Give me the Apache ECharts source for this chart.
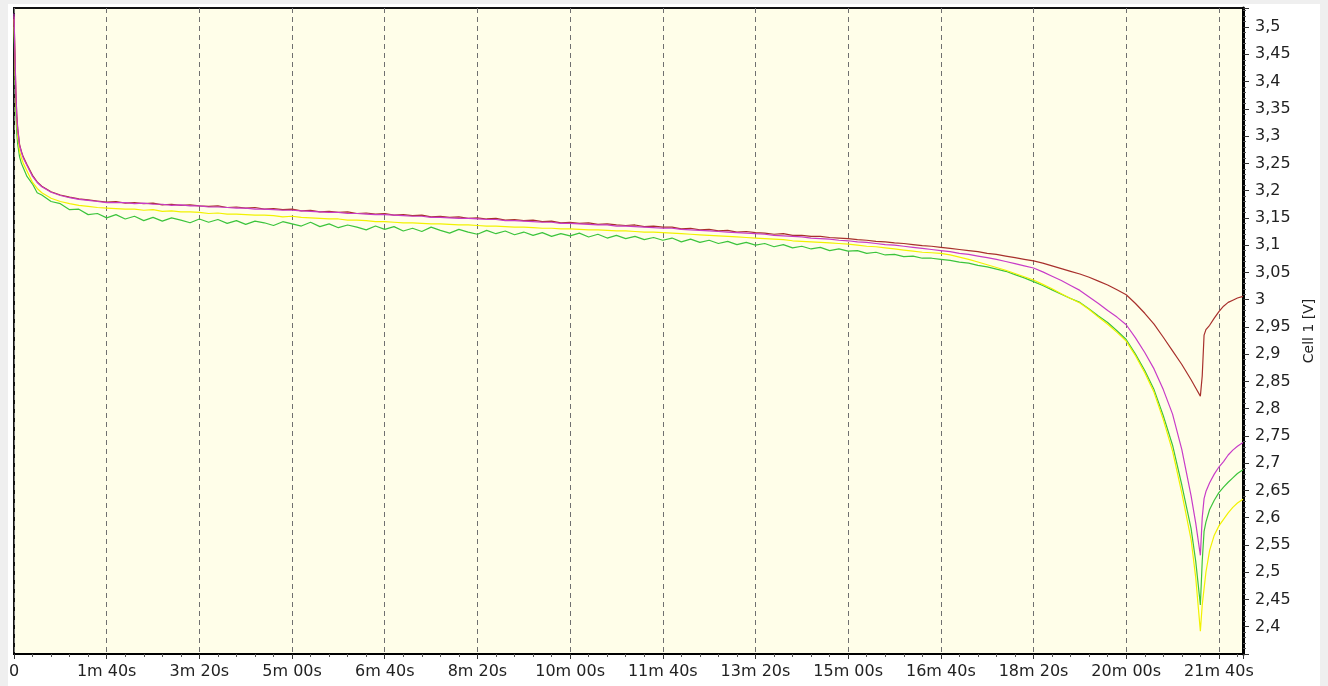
<!DOCTYPE html>
<html>
<head>
<meta charset="utf-8">
<title>Cell 1 discharge</title>
<script src="https://cdn.jsdelivr.net/npm/echarts@6/dist/echarts.min.js"></script>
<style>
  html, body { margin: 0; padding: 0; background: #efefef; }
  #cellChart { width: 1328px; height: 686px; }
</style>
</head>
<body>
<div id="cellChart"></div>
<script>
// time in seconds
const timeSec = [
  0, 1, 2, 3, 4, 6, 8, 10, 14, 20, 25, 30, 40, 50, 60, 70, 80, 90,
  100, 110, 120, 130, 140, 150, 160, 170, 180, 190,
  200, 210, 220, 230, 240, 250, 260, 270, 280, 290,
  300, 310, 320, 330, 340, 350, 360, 370, 380, 390,
  400, 410, 420, 430, 440, 450, 460, 470, 480, 490,
  500, 510, 520, 530, 540, 550, 560, 570, 580, 590,
  600, 610, 620, 630, 640, 650, 660, 670, 680, 690,
  700, 710, 720, 730, 740, 750, 760, 770, 780, 790,
  800, 810, 820, 830, 840, 850, 860, 870, 880, 890,
  900, 910, 920, 930, 940, 950, 960, 970, 980, 990,
  1000, 1010, 1020, 1030, 1040, 1050, 1060, 1070, 1080, 1090,
  1100, 1110, 1120, 1130, 1140, 1150, 1160, 1170, 1180, 1190,
  1200, 1210, 1220, 1230, 1240, 1250, 1260, 1270,
  1275, 1280, 1282, 1284, 1286, 1290, 1295, 1300, 1305, 1310, 1315, 1320, 1326
];

const redCell = [
  3.520, 3.450, 3.380, 3.340, 3.315, 3.285, 3.272, 3.262, 3.248, 3.228, 3.216, 3.208, 3.198, 3.192, 3.188, 3.185, 3.183, 3.181,
  3.179, 3.180, 3.177, 3.178, 3.176, 3.177, 3.174, 3.175, 3.173, 3.174,
  3.172, 3.171, 3.172, 3.169, 3.170, 3.168, 3.169, 3.166, 3.167, 3.165,
  3.166, 3.163, 3.164, 3.161, 3.162, 3.160, 3.161, 3.158, 3.159, 3.157,
  3.158, 3.155, 3.156, 3.154, 3.155, 3.152, 3.153, 3.151, 3.152, 3.149,
  3.150, 3.148, 3.149, 3.146, 3.147, 3.145, 3.146, 3.143, 3.144, 3.141,
  3.142, 3.140, 3.141, 3.138, 3.139, 3.137, 3.136, 3.137, 3.134, 3.135,
  3.133, 3.133, 3.130, 3.131, 3.128, 3.129, 3.126, 3.127, 3.124, 3.125,
  3.123, 3.122, 3.120, 3.121, 3.118, 3.118, 3.116, 3.116, 3.114, 3.113,
  3.112, 3.110, 3.109, 3.107, 3.106, 3.104, 3.103, 3.101, 3.099, 3.098,
  3.096, 3.094, 3.092, 3.090, 3.088, 3.085, 3.083, 3.080, 3.077, 3.074,
  3.071, 3.067, 3.062, 3.057, 3.052, 3.047, 3.041, 3.034, 3.027, 3.018,
  3.009, 2.993, 2.975, 2.955, 2.931, 2.906, 2.881, 2.853,
  2.838, 2.823, 2.860, 2.935, 2.945, 2.953, 2.966, 2.978, 2.988, 2.995, 2.999, 3.003, 3.006
];

const magentaCell = [
  3.525, 3.455, 3.385, 3.335, 3.312, 3.283, 3.270, 3.260, 3.246, 3.226, 3.215, 3.207, 3.197, 3.191, 3.187, 3.184, 3.182, 3.180,
  3.178, 3.178, 3.178, 3.176, 3.177, 3.175, 3.175, 3.173, 3.174, 3.172,
  3.172, 3.170, 3.170, 3.169, 3.168, 3.168, 3.166, 3.166, 3.165, 3.164,
  3.164, 3.163, 3.162, 3.161, 3.160, 3.160, 3.158, 3.158, 3.157, 3.156,
  3.156, 3.155, 3.154, 3.153, 3.153, 3.151, 3.151, 3.150, 3.149, 3.149,
  3.148, 3.147, 3.147, 3.145, 3.145, 3.144, 3.143, 3.142, 3.142, 3.140,
  3.140, 3.139, 3.138, 3.137, 3.137, 3.135, 3.135, 3.134, 3.133, 3.132,
  3.131, 3.131, 3.129, 3.128, 3.127, 3.126, 3.125, 3.124, 3.123, 3.122,
  3.121, 3.120, 3.118, 3.117, 3.116, 3.115, 3.113, 3.112, 3.111, 3.109,
  3.108, 3.106, 3.105, 3.103, 3.101, 3.100, 3.098, 3.096, 3.094, 3.092,
  3.090, 3.088, 3.085, 3.083, 3.080, 3.077, 3.074, 3.070, 3.066, 3.062,
  3.058, 3.051, 3.043, 3.035, 3.026, 3.017, 3.005, 2.993, 2.980, 2.968,
  2.954, 2.930, 2.903, 2.873, 2.835, 2.790, 2.725, 2.640,
  2.590, 2.531, 2.600, 2.635, 2.648, 2.664, 2.680, 2.693, 2.703, 2.715, 2.724, 2.731, 2.738
];

const yellowCell = [
  3.515, 3.440, 3.365, 3.325, 3.300, 3.272, 3.260, 3.250, 3.236, 3.215, 3.204, 3.196, 3.186, 3.180, 3.176, 3.173, 3.171, 3.169,
  3.168, 3.167, 3.166, 3.166, 3.164, 3.165, 3.162, 3.163, 3.161, 3.161,
  3.160, 3.158, 3.159, 3.157, 3.157, 3.156, 3.155, 3.155, 3.154, 3.152,
  3.153, 3.151, 3.150, 3.149, 3.148, 3.148, 3.146, 3.146, 3.145, 3.143,
  3.143, 3.142, 3.141, 3.141, 3.140, 3.139, 3.139, 3.138, 3.137, 3.137,
  3.136, 3.135, 3.135, 3.134, 3.133, 3.133, 3.132, 3.131, 3.131, 3.130,
  3.130, 3.129, 3.128, 3.128, 3.127, 3.126, 3.126, 3.125, 3.124, 3.124,
  3.123, 3.122, 3.121, 3.120, 3.119, 3.118, 3.117, 3.116, 3.115, 3.114,
  3.113, 3.112, 3.111, 3.110, 3.108, 3.107, 3.106, 3.105, 3.104, 3.103,
  3.102, 3.100, 3.098, 3.097, 3.095, 3.093, 3.091, 3.089, 3.087, 3.086,
  3.085, 3.082, 3.078, 3.074, 3.069, 3.064, 3.059, 3.054, 3.048, 3.042,
  3.036, 3.028, 3.020, 3.011, 3.002, 2.994, 2.982, 2.968, 2.955, 2.940,
  2.924, 2.897, 2.866, 2.830, 2.780, 2.722, 2.645, 2.560,
  2.490, 2.392, 2.440, 2.470, 2.500, 2.540, 2.568, 2.585, 2.597, 2.609, 2.619, 2.627, 2.634
];

const greenCell = [
  3.500, 3.420, 3.345, 3.305, 3.285, 3.262, 3.250, 3.242, 3.226, 3.212, 3.196, 3.192, 3.180, 3.176, 3.165, 3.166, 3.156, 3.158,
  3.150, 3.156, 3.148, 3.153, 3.145, 3.151, 3.144, 3.150, 3.146, 3.141,
  3.148, 3.142, 3.147, 3.140, 3.145, 3.138, 3.144, 3.141, 3.136, 3.143,
  3.139, 3.135, 3.142, 3.134, 3.139, 3.132, 3.137, 3.133, 3.128, 3.135,
  3.129, 3.134, 3.126, 3.131, 3.125, 3.133, 3.127, 3.122, 3.129, 3.124,
  3.120, 3.127, 3.121, 3.126, 3.119, 3.124, 3.118, 3.123, 3.116, 3.121,
  3.117, 3.122, 3.115, 3.120, 3.113, 3.118, 3.112, 3.116, 3.110, 3.114,
  3.109, 3.113, 3.106, 3.111, 3.105, 3.109, 3.103, 3.107, 3.101, 3.105,
  3.100, 3.103, 3.097, 3.101, 3.095, 3.098, 3.093, 3.096, 3.090, 3.093,
  3.089, 3.090, 3.085, 3.087, 3.082, 3.083, 3.079, 3.080, 3.076, 3.076,
  3.074, 3.072, 3.069, 3.067, 3.063, 3.060, 3.056, 3.052, 3.046, 3.040,
  3.033, 3.026, 3.018, 3.010, 3.002, 2.995, 2.983, 2.970, 2.958, 2.943,
  2.927, 2.900, 2.870, 2.835, 2.787, 2.733, 2.660, 2.580,
  2.520, 2.440, 2.520, 2.575, 2.592, 2.615, 2.632, 2.646, 2.656, 2.665, 2.673, 2.681, 2.688
];

// drawing order: green, yellow, red, magenta (magenta on top)
const seriesColors = ['#3cc43c', '#f2f200', '#a8302c', '#c83cc8'];

function pairs(vals) {
  return timeSec.map((t, i) => [t, vals[i]]);
}

function timeLabel(v) {
  if (Math.abs(v % 100) > 0.001) return '';
  if (v === 0) return '0';
  const m = Math.floor(v / 60);
  const s = Math.round(v - m * 60);
  return m + 'm ' + (s < 10 ? '0' + s : s) + 's';
}

function voltLabel(v) {
  const r = Math.round(v * 100) / 100;
  if (r < 2.39 || r > 3.51) return '';
  return String(r).replace('.', ',');
}

const chart = echarts.init(document.getElementById('cellChart'));

const option = {
  animation: false,
  backgroundColor: '#efefef',
  graphic: [{
    type: 'rect',
    z: -10,
    silent: true,
    shape: { x: 8, y: 4, width: 1312, height: 682 },
    style: { fill: '#ffffff' }
  }],
  grid: {
    left: 14, right: 85, top: 8, bottom: 32,
    show: true,
    backgroundColor: '#fffee9',
    borderColor: '#111',
    borderWidth: 2
  },
  xAxis: {
    type: 'value',
    min: 0,
    max: 1326,
    interval: 100,
    axisLine: { show: true, onZero: false, lineStyle: { color: '#000', width: 2 } },
    axisTick: { show: true, length: 5, lineStyle: { color: '#333' } },
    minorTick: { show: true, splitNumber: 5, length: 3, lineStyle: { color: '#555' } },
    splitLine: { show: true, lineStyle: { color: '#707070', type: [5, 4], width: 1 } },
    axisLabel: {
      margin: 10,
      color: '#222',
      fontFamily: 'DejaVu Sans',
      fontSize: 16,
      formatter: timeLabel
    }
  },
  yAxis: {
    type: 'value',
    position: 'right',
    min: 2.35,
    max: 3.535,
    interval: 0.05,
    name: 'Cell 1 [V]',
    nameLocation: 'middle',
    nameRotate: 90,
    nameGap: 59,
    nameTextStyle: { color: '#222', fontFamily: 'DejaVu Sans', fontSize: 14 },
    axisLine: { show: true, onZero: false, lineStyle: { color: '#000', width: 3 } },
    axisTick: { show: true, length: 6, lineStyle: { color: '#333' } },
    minorTick: { show: true, splitNumber: 5, length: 3, lineStyle: { color: '#555' } },
    splitLine: { show: false },
    axisLabel: {
      margin: 12,
      color: '#222',
      fontFamily: 'DejaVu Sans',
      fontSize: 16,
      formatter: voltLabel
    }
  },
  series: [
    { name: 'green', data: pairs(greenCell) },
    { name: 'yellow', data: pairs(yellowCell) },
    { name: 'red', data: pairs(redCell) },
    { name: 'magenta', data: pairs(magentaCell) }
  ].map((s, i) => ({
    name: s.name,
    type: 'line',
    data: s.data,
    showSymbol: false,
    symbol: 'none',
    lineStyle: { color: seriesColors[i], width: 1.2 },
    itemStyle: { color: seriesColors[i] }
  }))
};

chart.setOption(option);
</script>
</body>
</html>
